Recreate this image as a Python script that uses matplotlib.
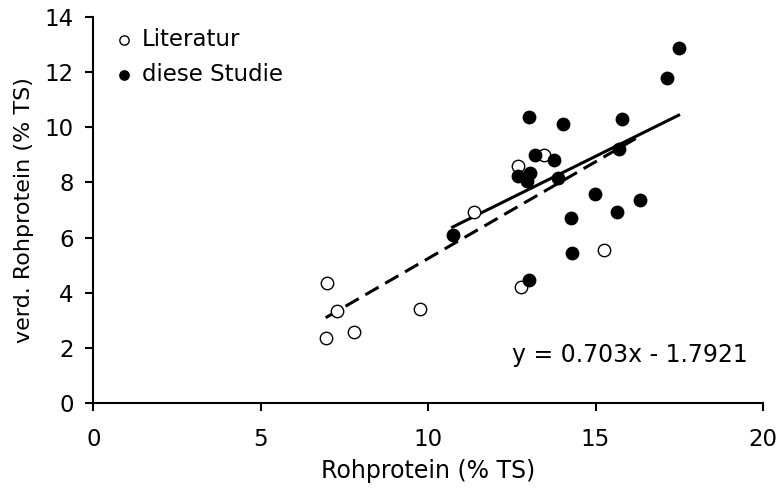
import matplotlib
matplotlib.use("Agg")
import matplotlib.pyplot as plt  # noqa: E402
import numpy as np  # noqa: E402

# Literatur (open circles)
lit_x = [6.99, 7.28, 6.94, 7.78, 9.77, 11.38, 12.67, 12.77, 13.47, 15.26]
lit_y = [4.34, 3.32, 2.36, 2.55, 3.41, 6.93, 8.60, 4.22, 9.00, 5.56]

# diese Studie (filled circles)
own_x = [10.73, 12.69, 12.94, 13.04, 13.02, 13.02, 13.18, 13.76, 13.89, 14.03,
         14.27, 14.29, 14.99, 15.64, 15.71, 15.80, 16.33, 17.13, 17.48]
own_y = [6.09, 8.22, 8.07, 8.33, 4.44, 10.38, 8.98, 8.80, 8.16, 10.11,
         6.70, 5.44, 7.58, 6.93, 9.21, 10.32, 7.36, 11.78, 12.87]

# trend lines
all_slope, all_icpt = 0.703, -1.7921
all_range = [6.94, 16.2]
own_slope, own_icpt = 0.602, -0.08
own_range = [10.73, 17.48]

plt.rcParams["font.family"] = "DejaVu Sans"
fs = 16.5

fig = plt.figure(figsize=(7.78, 4.90), dpi=100)
ax = fig.add_axes([0.1199, 0.1782, 0.8608, 0.7865])

ax.scatter(lit_x, lit_y, s=80, facecolor="white", edgecolor="black", linewidth=1.0,
           zorder=3, label="Literatur")
ax.scatter(own_x, own_y, s=80, facecolor="black", edgecolor="black", linewidth=1.0,
           zorder=3, label="diese Studie")

xr = np.array(own_range)
ax.plot(xr, own_slope * xr + own_icpt, color="black", lw=2.2, zorder=2)
xa = np.array(all_range)
ax.plot(xa, all_slope * xa + all_icpt, color="black", lw=2.2, ls=(0, (5, 2.5)), zorder=2)

ax.text(16.03, 1.73, "y = 0.703x - 1.7921", ha="center", va="center", fontsize=17)

ax.set_xlim(0, 20)
ax.set_ylim(0, 14)
ax.set_xticks([0, 5, 10, 15, 20])
ax.set_yticks(range(0, 15, 2))
ax.spines["top"].set_visible(False)
ax.spines["right"].set_visible(False)
for s in ("left", "bottom"):
    ax.spines[s].set_linewidth(1.5)
ax.tick_params(direction="out", length=6, width=1.5, labelsize=fs)
ax.tick_params(axis="x", pad=12)
ax.tick_params(axis="y", pad=8)
ax.set_xlabel("Rohprotein (% TS)", fontsize=17, labelpad=6)
ax.set_ylabel("verd. Rohprotein (% TS)", fontsize=16, labelpad=8)

ax.legend(loc="upper left", bbox_to_anchor=(0.011, 0.995), frameon=False, fontsize=fs,
          markerscale=0.75, handletextpad=0.2, borderaxespad=0.0, labelspacing=0.5,
          handlelength=1.2)

fig.savefig("out.png", dpi=100)
